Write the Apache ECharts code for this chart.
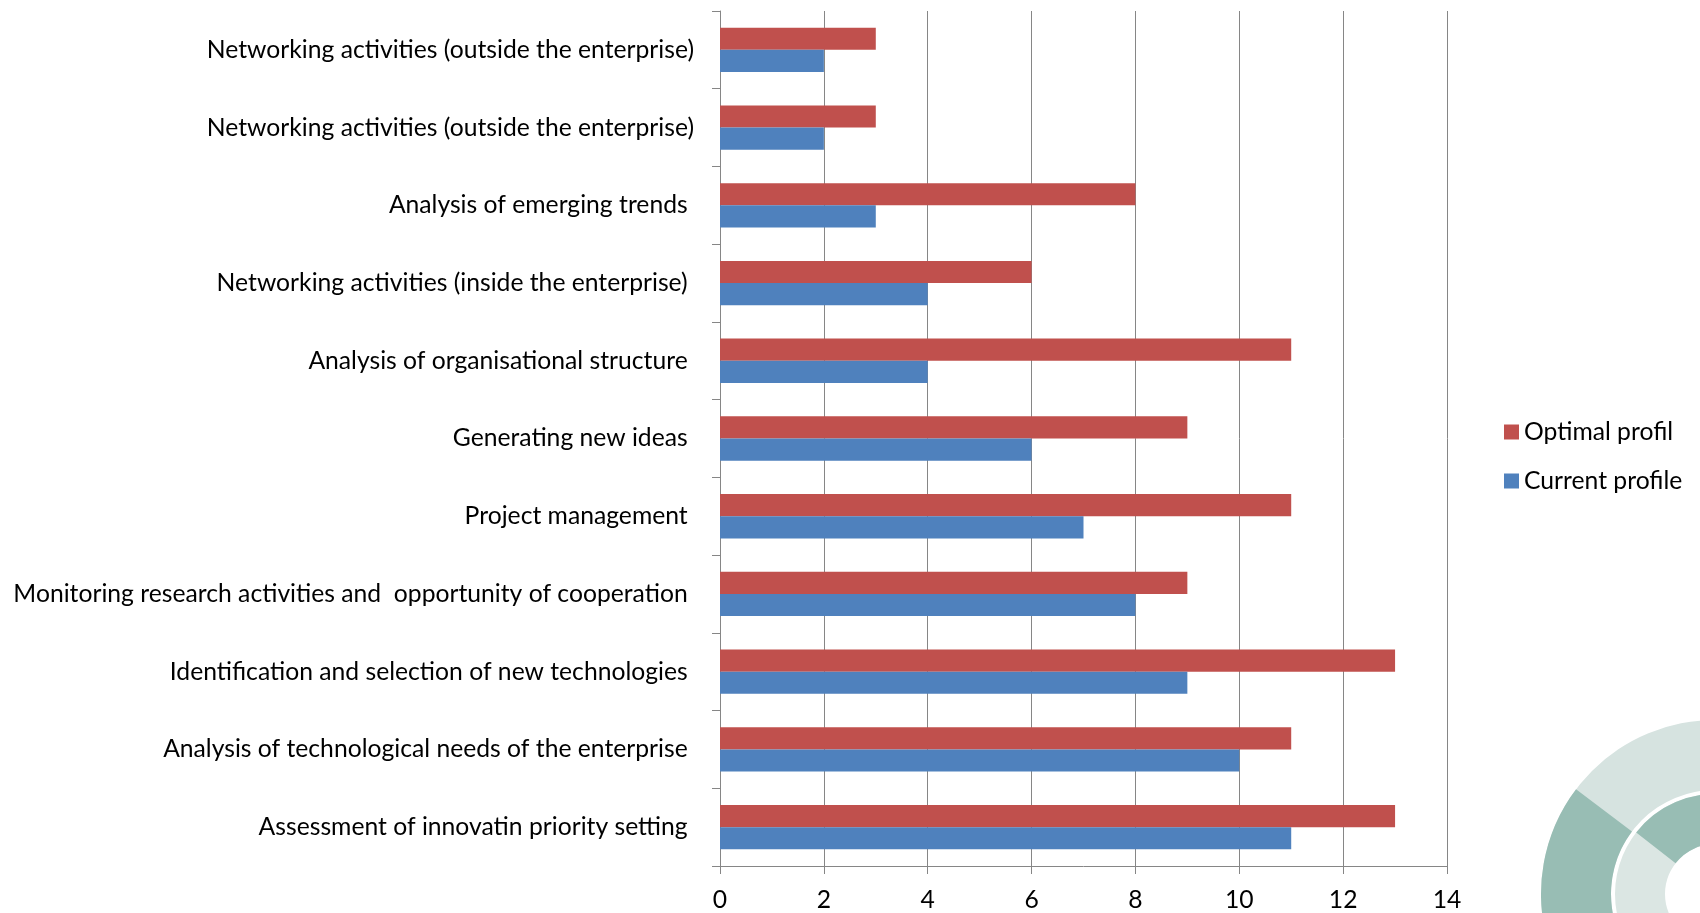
<!DOCTYPE html>
<html>
<head>
<meta charset="utf-8">
<script src="https://cdn.jsdelivr.net/npm/echarts@6/dist/echarts.min.js"></script>
<style>
html,body{margin:0;padding:0;background:#fff;}
#chart{width:1700px;height:913px;}
</style>
</head>
<body>
<div id="chart"></div>
<script>
// Categories listed top to bottom
const categories = [
  "Networking activities (outside the enterprise)",
  "Networking activities (outside the enterprise)",
  "Analysis of emerging trends ",
  "Networking activities (inside the enterprise) ",
  "Analysis of organisational structure ",
  "Generating new ideas ",
  "Project management ",
  "Monitoring research activities and  opportunity of cooperation ",
  "Identification and selection of new technologies ",
  "Analysis of technological needs of the enterprise ",
  "Assessment of innovatin priority setting "
];
const optimalProfil = [3, 3, 8, 6, 11, 9, 11, 9, 13, 11, 13];
const currentProfile = [2, 2, 3, 4, 4, 6, 7, 8, 9, 10, 11];
const xTicks = [0, 2, 4, 6, 8, 10, 12, 14];

const FONT = 'Lato';
const FS = 24.7;
const gridColor = '#868686';

const chart = echarts.init(document.getElementById('chart'), null, {renderer: 'canvas'});
chart.setOption({
  animation: false,
  backgroundColor: '#ffffff',
  textStyle: {fontFamily: FONT},
  grid: {left: 720, right: 253, top: 11, bottom: 47, containLabel: false},
  legend: {
    orient: 'vertical',
    left: 1504,
    top: 419,
    padding: 0,
    itemWidth: 15,
    itemHeight: 15,
    itemGap: 23,
    icon: 'rect',
    textStyle: {fontFamily: FONT, fontSize: FS, color: '#000', lineHeight: 26},
    data: ['Optimal profil', 'Current profile']
  },
  xAxis: {
    type: 'value',
    min: xTicks[0],
    max: xTicks[xTicks.length - 1],
    interval: 2,
    axisLine: {show: true, lineStyle: {color: gridColor, width: 1}},
    axisTick: {show: true, length: 8, lineStyle: {color: gridColor}},
    axisLabel: {fontFamily: FONT, fontSize: FS, color: '#000', margin: 22},
    splitLine: {show: true, lineStyle: {color: gridColor, width: 1}}
  },
  yAxis: {
    type: 'category',
    inverse: true,
    data: categories,
    axisLine: {show: true, lineStyle: {color: gridColor, width: 1}},
    axisTick: {show: true, length: 8, lineStyle: {color: gridColor}},
    axisLabel: {fontFamily: FONT, fontSize: FS, color: '#000', margin: 26, interval: 0},
    splitLine: {show: false}
  },
  series: [
    {
      name: 'Optimal profil',
      type: 'bar',
      data: optimalProfil,
      itemStyle: {color: '#C0504D'},
      barGap: '0%',
      barCategoryGap: '43%'
    },
    {
      name: 'Current profile',
      type: 'bar',
      data: currentProfile,
      itemStyle: {color: '#4F81BD'},
      barGap: '0%',
      barCategoryGap: '43%'
    }
  ],
  graphic: [
    {type: 'sector', silent: true, z: -10, shape: {cx: 1715, cy: 894, r: 174, r0: 104, startAngle: 0, endAngle: Math.PI * 2}, style: {fill: '#d6e3e0'}},
    {type: 'sector', silent: true, z: -9, shape: {cx: 1715, cy: 894, r: 174, r0: 104, startAngle: 100 * Math.PI / 180, endAngle: 217 * Math.PI / 180}, style: {fill: '#98bdb4'}},
    {type: 'sector', silent: true, z: -10, shape: {cx: 1715, cy: 894, r: 100, r0: 50, startAngle: 0, endAngle: Math.PI * 2}, style: {fill: '#dbe6e3'}},
    {type: 'sector', silent: true, z: -9, shape: {cx: 1715, cy: 894, r: 100, r0: 50, startAngle: 218 * Math.PI / 180, endAngle: 275 * Math.PI / 180}, style: {fill: '#98bdb4'}}
  ]
});
</script>
</body>
</html>
